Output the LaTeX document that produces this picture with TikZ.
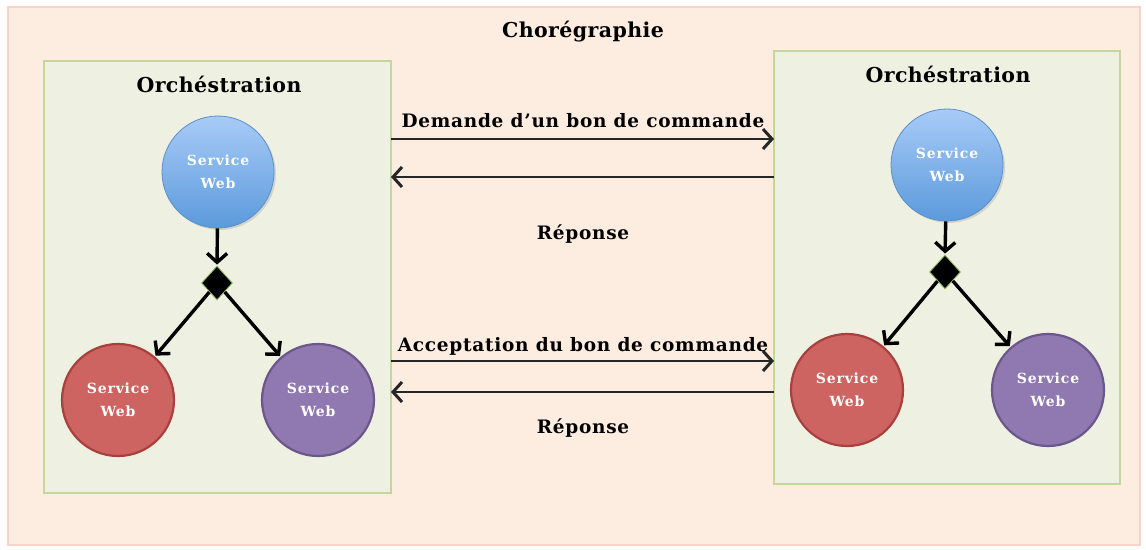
\documentclass[tikz,border=0pt]{standalone}
\usepackage{fontspec}
\setmainfont{DejaVu Serif}
\usetikzlibrary{shapes.geometric,arrows.meta,shadows}
\definecolor{outerfill}{HTML}{FDECE0}
\definecolor{outerdraw}{HTML}{F5D3C8}
\definecolor{innerfill}{HTML}{EEF1E2}
\definecolor{innerdraw}{HTML}{C3D69B}
\definecolor{bluetop}{HTML}{A8CBF8}
\definecolor{bluebot}{HTML}{5B9ADB}
\definecolor{bluedraw}{HTML}{5B8FCB}
\definecolor{redfill}{HTML}{CD6461}
\definecolor{reddraw}{HTML}{A8403E}
\definecolor{purfill}{HTML}{9079B0}
\definecolor{purdraw}{HTML}{6B5789}
\definecolor{diadraw}{HTML}{9BBB59}
\tikzset{
  x=1pt, y=-1pt,
  sw/.style={circle, minimum size=112pt, inner sep=0pt, align=center, text=white,
    font=\fontsize{14}{23}\selectfont\bfseries\addfontfeatures{LetterSpace=6}},
  swblue/.style={sw, draw=bluedraw, line width=0.8pt, top color=bluetop, bottom color=bluebot,
    drop shadow={shadow xshift=2pt, shadow yshift=-2pt, opacity=0.25}},
  swred/.style={sw, draw=reddraw, line width=2.2pt, fill=redfill},
  swpur/.style={sw, draw=purdraw, line width=2.2pt, fill=purfill},
  gate/.style={diamond, fill=black, draw=diadraw, line width=0.8pt, minimum width=31pt, minimum height=34pt, inner sep=0pt},
  orch/.style={draw=innerdraw, fill=innerfill, line width=1.2pt},
  flow/.style={line width=3.4pt, shorten >=1pt, -{Straight Barb[length=9pt,width=20pt,line width=3.4pt]}},
  msg/.style={line width=2.6pt, draw=black!85, -{Straight Barb[length=9pt,width=20pt,line width=3pt]}},
  lbl/.style={font=\fontsize{18.5}{20}\selectfont\bfseries\addfontfeatures{LetterSpace=4}, inner sep=0pt},
  ttl/.style={font=\fontsize{20.5}{24}\selectfont\bfseries\addfontfeatures{LetterSpace=2}, inner sep=0pt},
}
\begin{document}
\begin{tikzpicture}
\useasboundingbox (0,0) rectangle (1146,549);
\fill[white] (0,0) rectangle (1146,549);
\draw[draw=outerdraw, fill=outerfill, line width=1.2pt] (8,7) rectangle (1140,545);
\node[ttl] (chor) at (583,32) {Chorégraphie};
% left orchestration
\draw[orch] (44,61) rectangle (391,493);
\coordinate (Lr1) at (391,139);
\coordinate (Lr2) at (391,177);
\coordinate (Lr3) at (391,361);
\coordinate (Lr4) at (391,392);
\node[ttl] (orchL) at (219,84) {Orchéstration};
\node[swblue] (bL) at (218,172) {Service\\Web};
\node[gate] (gL) at (217,283) {};
\node[swred] (rL) at (118,400) {Service\\Web};
\node[swpur] (pL) at (318,400) {Service\\Web};
\draw[flow] (bL) -- (gL.north);
\draw[flow] (gL) -- (rL);
\draw[flow] (gL) -- (pL);
% right orchestration
\draw[orch] (774,51) rectangle (1120,484);
\coordinate (Rl1) at (774,139);
\coordinate (Rl2) at (774,177);
\coordinate (Rl3) at (774,361);
\coordinate (Rl4) at (774,392);
\node[ttl] (orchR) at (948,74) {Orchéstration};
\node[swblue] (bR) at (947,165) {Service\\Web};
\node[gate] (gR) at (945,272) {};
\node[swred] (rR) at (847,390) {Service\\Web};
\node[swpur] (pR) at (1048,390) {Service\\Web};
\draw[flow] (bR) -- (gR.north);
\draw[flow] (gR) -- (rR);
\draw[flow] (gR) -- (pR);
% messages
\draw[msg] (Lr1) -- (Rl1);
\draw[msg] (Rl2) -- (Lr2);
\draw[msg] (Lr3) -- (Rl3);
\draw[msg] (Rl4) -- (Lr4);
\node[lbl] (m1) at (583,121) {Demande d’un bon de commande};
\node[lbl] (m2) at (583,234) {Réponse};
\node[lbl] (m3) at (583,346) {Acceptation du bon de commande};
\node[lbl] (m4) at (583,428) {Réponse};
\end{tikzpicture}
\end{document}
